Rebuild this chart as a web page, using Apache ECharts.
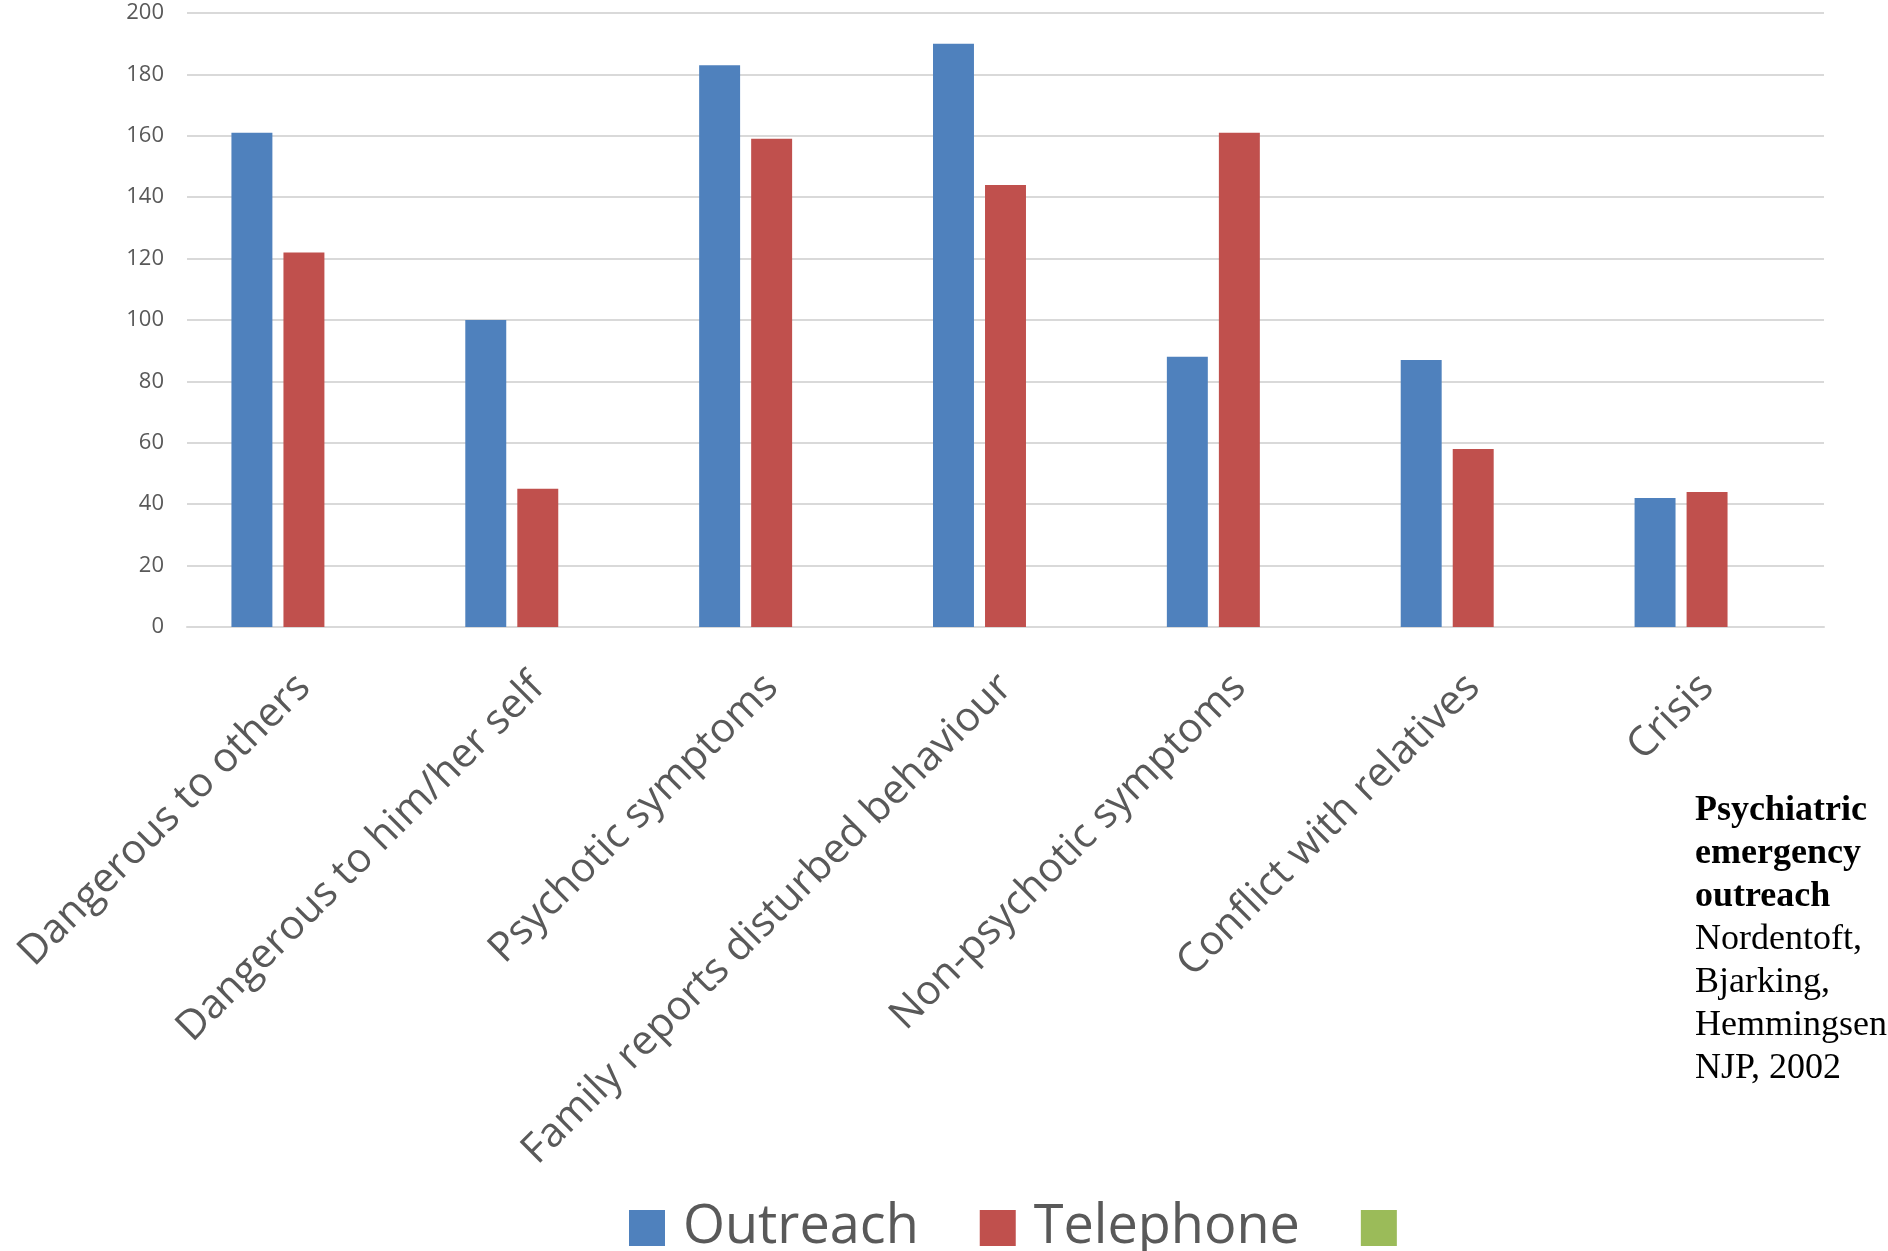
<!DOCTYPE html>
<html>
<head>
<meta charset="utf-8">
<script src="https://cdn.jsdelivr.net/npm/echarts@6/dist/echarts.min.js"></script>
<style>
html,body{margin:0;padding:0;background:#fff;}
#chart{width:1888px;height:1251px;}
</style>
</head>
<body>
<div id="chart"></div>
<script>
const categories = ['Dangerous to others','Dangerous to him/her self','Psychotic symptoms','Family reports disturbed behaviour','Non-psychotic symptoms','Conflict with relatives','Crisis'];
const outreach = [161, 100, 183, 190, 88, 87, 42];
const telephone = [122, 45, 159, 144, 161, 58, 44];
const thirdSeries = [null, null, null, null, null, null, null];
const seriesNames = ['Outreach', 'Telephone', ' '];
const yTicks = { min: 0, max: 200, interval: 20 };
const noteBold = ['Psychiatric', 'emergency', 'outreach'];
const noteRegular = ['Nordentoft,', 'Bjarking,', 'Hemmingsen', 'NJP, 2002'];

const chart = echarts.init(document.getElementById('chart'));
const colors = ['#4F81BD', '#C0504D', '#9BBB59'];
chart.setOption({
  animation: false,
  color: colors,
  grid: { left: 187, right: 64, top: 13, bottom: 624, outerBoundsMode: 'none', containLabel: false },
  xAxis: {
    type: 'category',
    data: categories,
    axisLine: { show: true, lineStyle: { color: '#D9D9D9', width: 2 } },
    axisTick: { show: false },
    axisLabel: { rotate: 45, interval: 0, margin: 54, color: '#595959', fontSize: 41, fontFamily: 'Open Sans' }
  },
  yAxis: {
    type: 'value',
    min: yTicks.min, max: yTicks.max, interval: yTicks.interval,
    axisLine: { show: false },
    axisTick: { show: false },
    splitLine: { lineStyle: { color: '#D9D9D9', width: 2 } },
    axisLabel: { color: '#595959', fontSize: 22, margin: 23, fontFamily: 'Open Sans' }
  },
  legend: {
    data: seriesNames,
    left: 624,
    top: 1196,
    itemWidth: 36,
    itemHeight: 36,
    itemGap: 61,
    icon: 'rect',
    textStyle: { color: '#595959', fontSize: 54, fontFamily: 'Open Sans', padding: [0, 0, 0, 13] }
  },
  series: [
    { name: seriesNames[0], type: 'bar', data: outreach, barGap: '27%', barCategoryGap: '38%' },
    { name: seriesNames[1], type: 'bar', data: telephone, barGap: '27%', barCategoryGap: '38%' },
    { name: seriesNames[2], type: 'bar', data: thirdSeries, barGap: '27%', barCategoryGap: '38%' }
  ],
  graphic: [
    { type: 'text', left: 1695, top: 789, style: { text: noteBold.join('\n'), font: 'bold 36px "Liberation Serif"', lineHeight: 43, fill: '#000' } },
    { type: 'text', left: 1695, top: 918, style: { text: noteRegular.join('\n'), font: '36px "Liberation Serif"', lineHeight: 43, fill: '#000' } }
  ]
});
</script>
</body>
</html>
